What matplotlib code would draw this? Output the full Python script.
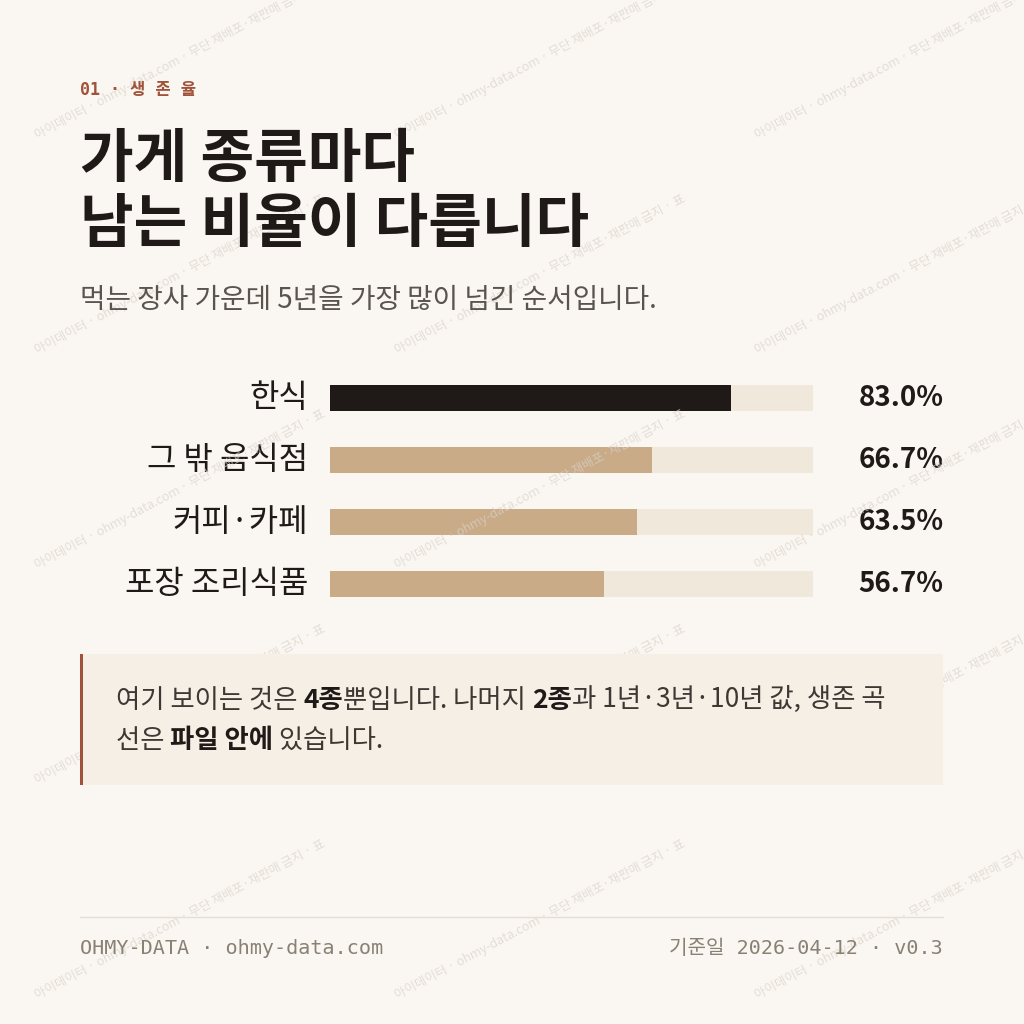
import matplotlib
matplotlib.use('Agg')
import matplotlib.pyplot as plt
from matplotlib.patches import Rectangle

plt.rcParams['font.family'] = ['Noto Sans CJK KR', 'DejaVu Sans']

# 데이터
categories = ['한식', '그 밖 음식점', '커피·카페', '포장 조리식품']
values = [83.0, 66.7, 63.5, 56.7]
bar_colors = ['#1f1a17', '#c9ab88', '#c9ab88', '#c9ab88']

BG = '#faf7f2'
ACCENT = '#a0533a'
W = 1024

fig = plt.figure(figsize=(10.24, 10.24), dpi=100, facecolor=BG)

def px(x, y):
    return x / W, 1 - y / W

# 워터마크
wm = '아이데이터 · ohmy-data.com · 무단 재배포·재판매 금지 · 표'
for row in range(0, 5):
    for col in range(0, 3):
        x = col * 360 + 180
        y = row * 215 + 60
        fig.text(*px(x, y), wm, rotation=28, fontsize=9, color='#d9d2c8',
                 alpha=0.7, ha='center', va='center', zorder=0)

# 헤더
fig.text(*px(80, 90), '01 · 생 존 율', fontsize=12, color=ACCENT, va='center',
         family=['DejaVu Sans Mono', 'Noto Sans CJK KR'], fontweight='bold')
fig.text(*px(80, 160), '가게 종류마다', fontsize=42, fontweight='bold', color='#1f1a17', va='center')
fig.text(*px(80, 225), '남는 비율이 다릅니다', fontsize=42, fontweight='bold', color='#1f1a17', va='center')
fig.text(*px(80, 300), '먹는 장사 가운데 5년을 가장 많이 넘긴 순서입니다.', fontsize=20, color='#5a544e', va='center')

# 막대
ax = fig.add_axes([330 / W, 1 - 615 / W, 483 / W, 248 / W])
ax.set_facecolor('none')
ypos = list(range(len(categories)))
ax.barh(ypos, [100] * len(values), height=0.42, color='#f1e8dc')
ax.barh(ypos, values, height=0.42, color=bar_colors)
ax.set_xlim(0, 100)
ax.set_ylim(3.5, -0.5)
ax.axis('off')
for i, (c, v) in enumerate(zip(categories, values)):
    ax.text(-4.5, i, c, ha='right', va='center', fontsize=23, color='#1f1a17')
    ax.text(127, i, f'{v:.1f}%', ha='right', va='center', fontsize=20,
            fontweight='bold', color='#1f1a17')

# 설명 박스
fig.patches.append(Rectangle(px(80, 785), 863 / W, 131 / W, transform=fig.transFigure,
                             facecolor='#f5efe6', edgecolor='none', zorder=1))
fig.patches.append(Rectangle(px(80, 785), 3 / W, 131 / W, transform=fig.transFigure,
                             facecolor=ACCENT, edgecolor='none', zorder=2))

renderer = fig.canvas.get_renderer()

def rich_line(x, y, parts):
    for s, bold in parts:
        t = fig.text(*px(x, y), s, fontsize=19, color='#3d3833', va='center',
                     fontweight='bold' if bold else 'normal', zorder=3)
        if bold:
            t.set_color('#1f1a17')
        x += t.get_window_extent(renderer).width

rich_line(116, 700, [('여기 보이는 것은 ', False), ('4종', True), ('뿐입니다. 나머지 ', False),
                     ('2종', True), ('과 1년·3년·10년 값, 생존 곡', False)])
rich_line(116, 741, [('선은 ', False), ('파일 안에', True), (' 있습니다.', False)])

# 푸터
fig.add_artist(plt.Line2D([80 / W, 943 / W], [1 - 917 / W] * 2, color='#e5ded4', lw=1))
mono = ['DejaVu Sans Mono', 'Noto Sans CJK KR']
fig.text(*px(80, 948), 'OHMY-DATA · ohmy-data.com', fontsize=14.5, color='#8a8175', va='center', family=mono)
fig.text(*px(943, 948), '기준일 2026-04-12 · v0.3', fontsize=14.5, color='#8a8175', va='center', ha='right', family=mono)

fig.savefig('out.png', dpi=100, facecolor=BG)
